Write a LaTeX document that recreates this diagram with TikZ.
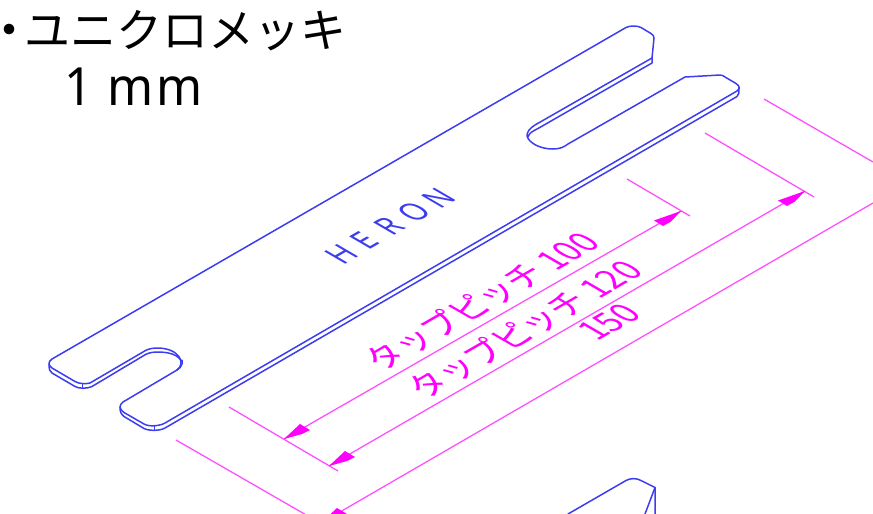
\documentclass[tikz,border=0pt]{standalone}
\usepackage{fontspec}
\setmainfont{Noto Sans}
\newfontfamily\jp{Noto Sans CJK JP}
\definecolor{bl}{HTML}{3C3CF0}
\definecolor{mg}{HTML}{FF50FF}
\definecolor{mgfull}{HTML}{FF00FF}
\tikzset{
 part/.style={draw=bl,line width=1.5pt,line join=round,line cap=round},
 dimline/.style={draw=mg,line width=1.3pt},
 isolabel/.style={text=mgfull,transform shape,inner sep=0pt,font=\jp\fontsize{32}{32}\selectfont},
}
\begin{document}
\begin{tikzpicture}[x=1pt,y=-1pt]
\useasboundingbox (0,0) rectangle (873,514);
\clip (0,0) rectangle (873,514);
% top text
\node[inner sep=0pt,font=\jp\fontsize{50}{50}\selectfont] (bullet) at (9,36) {・};
\node[anchor=west,inner sep=0pt,font=\jp\fontsize{46}{46}\selectfont] (title) at (24,31) {ユニクロメッキ};
\node[transform shape,cm={1.05,0,0,1.12,(64,87)},anchor=west,inner sep=0pt,font=\fontsize{47}{47}\selectfont] (thick) at (0,0) {1\kern14pt m\kern3pt m};
% top face
\draw[part] (652,58) -- (535,125) .. controls (529,129) and (527,132) .. (527,136)
 .. controls (529,143) and (540,149) .. (553,149) .. controls (560,149) and (564,147) .. (568,144)
 -- (685,77) -- (720,75) .. controls (722,75) and (724,76) .. (725,77) -- (736,83.5)
 .. controls (740,86) and (740,89) .. (737,91) -- (165,423)
 .. controls (160,426) and (149,427) .. (144,424) -- (124,412.5)
 .. controls (119,409) and (119,405) .. (123,402) -- (177,370)
 .. controls (186,364) and (180,348) .. (157,348) .. controls (150,348) and (146,350) .. (143,352)
 -- (90,383) .. controls (86,384) and (79,384) .. (75,381.5) -- (52,368)
 .. controls (48,365) and (48,362) .. (52,359) -- (626,27.5)
 .. controls (630,25.5) and (637,25.5) .. (641,27.5) -- (651,33.5)
 .. controls (653,35) and (654,36) .. (654,38) -- (652,58);
% thickness edges
\draw[part] (652,58) -- (652,63) -- (538,128.5) .. controls (533,131) and (529,133) .. (528,137);
\draw[part] (182,360) -- (182,364) .. controls (181,367) and (180,368) .. (177,370);
\draw[part] (182,362) .. controls (178,354) and (168,352) .. (157,352) .. controls (150,352) and (146,354) .. (143,356)
 -- (92,386.5) .. controls (88,388.5) and (79,389) .. (75,386.5) -- (52,373)
 .. controls (50,371.5) and (49,370) .. (49,364);
\draw[part] (82.3,383.5) -- (82.3,388.5);
\draw[part] (120,407) .. controls (120,412) and (121,414) .. (124,416.5) -- (144,428.5)
 .. controls (149,431) and (160,431) .. (165,428) -- (737,96.5) .. controls (739,95) and (739,92) .. (739,88);
\draw[part] (154.3,425.5) -- (154.3,430);
% HERON
\node[transform shape,cm={0.866,0.5,-1.1,0.64,(390,226)},text=bl,inner sep=0pt,font=\fontsize{27}{27}\selectfont] (maker) at (0,0) {H\kern9pt E\kern13pt R\kern10pt O\kern7pt N};
% dimension coordinates
\coordinate (a1) at (627,179); \coordinate (a2) at (690,216);
\coordinate (b1) at (705,133); \coordinate (b2) at (814,197);
\coordinate (c1) at (764,99); \coordinate (c2) at (873,162);
\coordinate (d1) at (229,407); \coordinate (d2) at (338,471);
\coordinate (e1) at (176,440); \coordinate (e2) at (308,516);
\coordinate (pa) at (681,211); \coordinate (pb) at (284,439);
\coordinate (qa) at (805,191); \coordinate (qb) at (329,466);
\coordinate (ra) at (873,203); \coordinate (rb) at (321,523);
\draw[dimline] (a1)--(a2); \draw[dimline] (b1)--(b2); \draw[dimline] (c1)--(c2);
\draw[dimline] (d1)--(d2); \draw[dimline] (e1)--(e2);
\draw[dimline] (pa)--(pb); \draw[dimline] (qa)--(qb); \draw[dimline] (ra)--(rb);
% arrowheads
\foreach \t in {pa,qa}{\fill[mgfull] (\t) -- ++(-27,9.5) -- ++(9,5.5) -- ++(8,-4.5) -- cycle;}
\foreach \t in {pb,qb,rb}{\fill[mgfull] (\t) -- ++(16,-15) -- ++(10,6) -- ++(-8,4) -- cycle;}
% labels
\node[isolabel,cm={0.866,0.5,-1.01,0.585,(481,301)}] (l100) at (0,0) {タップピッチ 100};
\node[isolabel,cm={0.866,0.5,-1.01,0.585,(524,329)}] (l120) at (0,0) {タップピッチ 120};
\node[isolabel,cm={0.866,0.5,-1.01,0.585,(609,322)}] (l150) at (0,0) {150};
% next part
\draw[part] (568,514) -- (626,480.5) .. controls (630,478) and (637,478) .. (641,480.5) -- (655,487.5) -- (655,514);
\draw[part] (655,487.5) -- (645,514);
\end{tikzpicture}
\end{document}
